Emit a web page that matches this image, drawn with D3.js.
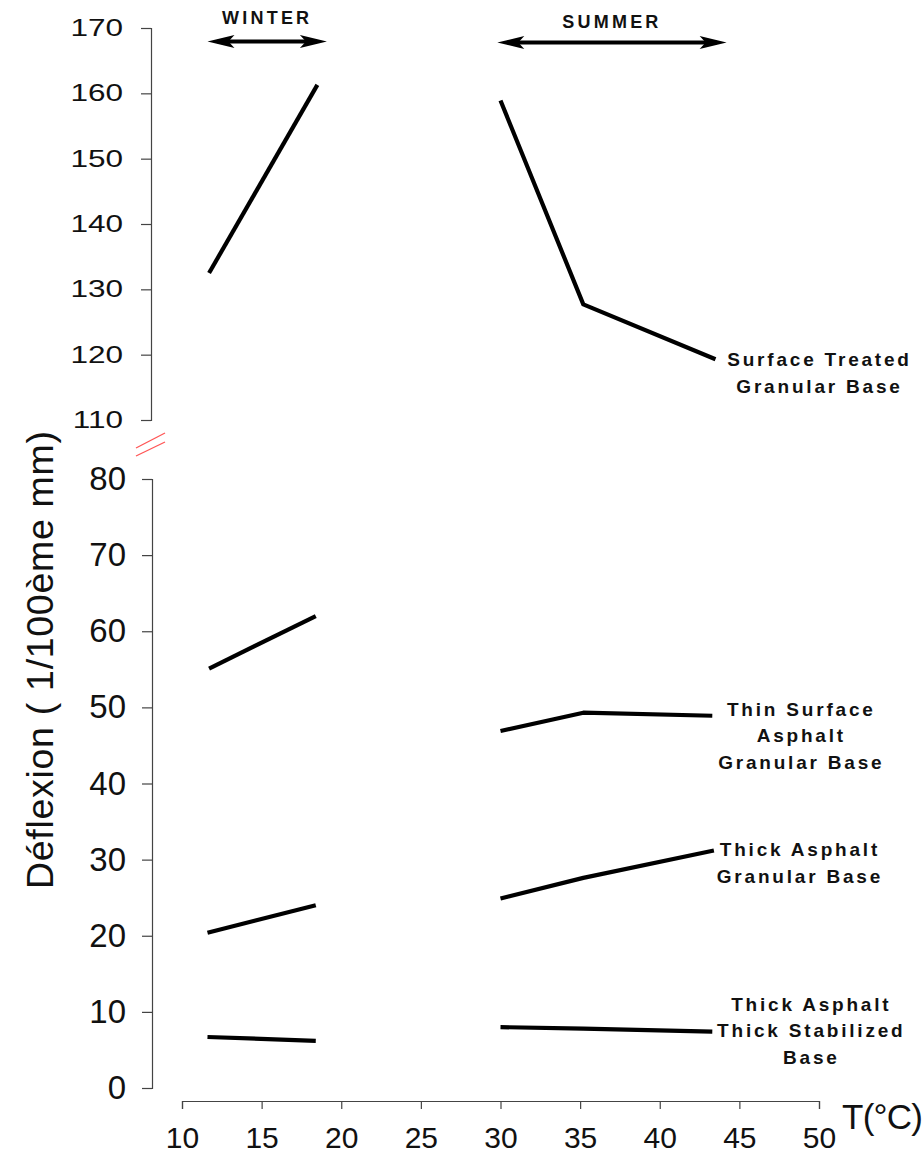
<!DOCTYPE html>
<html>
<head>
<meta charset="utf-8">
<script src="https://cdn.jsdelivr.net/npm/d3@7"></script>
<style>
  body { margin: 0; background: #fff; }
  svg { display: block; }
  .lbl { font-family: "Liberation Sans", Arial, sans-serif; font-weight: bold; fill: #111; }
</style>
</head>
<body>
<svg class="svg"></svg>
<script>
// data
const upperTicks = [110, 120, 130, 140, 150, 160, 170]
const lowerTicks = [0, 10, 20, 30, 40, 50, 60, 70, 80]
const xTicks = [10, 15, 20, 25, 30, 35, 40, 45, 50]

const surfaceTreatedWinter = [[11.7, 132.5], [18.5, 161.3]]
const surfaceTreatedSummer = [[30.0, 158.9], [35.2, 127.7], [43.5, 119.3]]
const thinSurfaceWinter = [[11.7, 55.1], [18.4, 62.0]]
const thinSurfaceSummer = [[30.0, 46.9], [35.2, 49.3], [43.3, 48.9]]
const thickGranularWinter = [[11.6, 20.4], [18.4, 24.0]]
const thickGranularSummer = [[30.0, 24.9], [35.2, 27.6], [43.4, 31.2]]
const thickStabWinter = [[11.6, 6.7], [18.4, 6.2]]
const thickStabSummer = [[30.0, 8.0], [35.2, 7.8], [43.3, 7.4]]

const seasons = [
  { name: "WINTER", from: 11.6, to: 19.1 },
  { name: "SUMMER", from: 29.8, to: 44.2 }
]

const labels = [
  { panel: "upper", at: surfaceTreatedSummer[2], lines: ["Surface Treated", "Granular Base"] },
  { panel: "lower", at: thinSurfaceSummer[2], lines: ["Thin Surface", "Asphalt", "Granular Base"] },
  { panel: "lower", at: thickGranularSummer[2], lines: ["Thick Asphalt", "Granular Base"] },
  { panel: "lower", at: thickStabSummer[2], lines: ["Thick Asphalt", "Thick Stabilized", "Base"] }
]

// label offsets from the line end (px)
const labelShift = [[104, 7], [89, 0], [86, 6], [99, -21]]

const svg = d3.select(".svg").attr("width", 924).attr("height", 1156)

const x = d3.scaleLinear().domain([10, 50]).range([182, 819])
const yUp = d3.scaleLinear().domain([110, 170]).range([420, 28])
const yLow = d3.scaleLinear().domain([0, 80]).range([1088, 479])

// y axes
const upAxis = svg.append("g")
  .attr("transform", "translate(151,0)")
  .call(d3.axisLeft(yUp).tickValues(upperTicks).tickSize(10))
upAxis.selectAll("text")
  .attr("x", 0)
  .attr("transform", "translate(-28,0) scale(1.37,1)")
  .attr("font-family", "Liberation Sans, Arial, sans-serif")
  .attr("font-size", 23).attr("fill", "#111")

const lowAxis = svg.append("g")
  .attr("transform", "translate(152,0)")
  .call(d3.axisLeft(yLow).tickValues(lowerTicks).tickSize(10).tickPadding(16))
lowAxis.selectAll("text")
  .attr("font-family", "Liberation Sans, Arial, sans-serif")
  .attr("font-size", 33).attr("fill", "#111")

// x axis
const xAxis = svg.append("g")
  .attr("transform", "translate(0,1101)")
  .call(d3.axisBottom(x).tickValues(xTicks).tickSize(8).tickPadding(18))
xAxis.selectAll("text")
  .attr("font-family", "Liberation Sans, Arial, sans-serif")
  .attr("font-size", 30).attr("fill", "#111")

svg.selectAll(".domain, .tick line").attr("stroke", "#444").attr("stroke-width", 1.2)

svg.append("text")
  .attr("x", 842).attr("y", 1129)
  .attr("font-family", "Liberation Sans, Arial, sans-serif")
  .attr("font-size", 35)
  .attr("textLength", 81)
  .attr("fill", "#111")
  .text("T(°C)")

svg.append("text")
  .attr("transform", "translate(53,660) rotate(-90)")
  .attr("text-anchor", "middle")
  .attr("font-family", "Liberation Sans, Arial, sans-serif")
  .attr("font-size", 37.5)
  .attr("textLength", 458)
  .attr("fill", "#111")
  .text("Déflexion ( 1/100ème mm)")

// break marks
const brk = svg.append("g").attr("stroke", "#f55").attr("stroke-width", 1.3)
brk.append("line").attr("x1", 136).attr("y1", 448).attr("x2", 165).attr("y2", 433)
brk.append("line").attr("x1", 136).attr("y1", 456).attr("x2", 165).attr("y2", 442)

// series lines
const lineUp = d3.line().x(d => x(d[0])).y(d => yUp(d[1]))
const lineLow = d3.line().x(d => x(d[0])).y(d => yLow(d[1]))

const upperSeries = [surfaceTreatedWinter, surfaceTreatedSummer]
const lowerSeries = [thinSurfaceWinter, thinSurfaceSummer, thickGranularWinter,
  thickGranularSummer, thickStabWinter, thickStabSummer]

svg.append("g").selectAll("path")
  .data(upperSeries)
  .join("path")
  .attr("d", lineUp)
  .attr("fill", "none").attr("stroke", "#000").attr("stroke-width", 4.2)
  .attr("stroke-linejoin", "round")

svg.append("g").selectAll("path")
  .data(lowerSeries)
  .join("path")
  .attr("d", lineLow)
  .attr("fill", "none").attr("stroke", "#000").attr("stroke-width", 4.2)
  .attr("stroke-linejoin", "round")

// season arrows
const season = svg.append("g").selectAll("g")
  .data(seasons)
  .join("g")
  .attr("transform", (d, i) => `translate(0,${i ? 42.5 : 41.5})`)

season.append("line")
  .attr("x1", d => x(d.from) + 10).attr("x2", d => x(d.to) - 10)
  .attr("stroke", "#000").attr("stroke-width", 4)

season.append("path")
  .attr("d", d => {
    const a = x(d.from), b = x(d.to)
    return `M${a},0 L${a + 27},-6.5 L${a + 21},0 L${a + 27},6.5 Z M${b},0 L${b - 27},-6.5 L${b - 21},0 L${b - 27},6.5 Z`
  })
  .attr("fill", "#000")

season.append("text")
  .attr("class", "lbl")
  .attr("x", d => (x(d.from) + x(d.to)) / 2)
  .attr("y", (d, i) => i ? -14.5 : -17.5)
  .attr("text-anchor", "middle")
  .attr("font-size", 18)
  .attr("letter-spacing", 3.2)
  .text(d => d.name)

// series labels
const lab = svg.append("g").selectAll("text")
  .data(labels)
  .join("text")
  .attr("class", "lbl")
  .attr("text-anchor", "middle")
  .attr("font-size", 19)
  .attr("letter-spacing", 2.8)
  .attr("transform", (d, i) => {
    const px = x(d.at[0]) + labelShift[i][0]
    const py = (d.panel === "upper" ? yUp(d.at[1]) : yLow(d.at[1])) + labelShift[i][1]
    return `translate(${px},${py})`
  })

lab.selectAll("tspan")
  .data(d => d.lines.map((t, i) => ({ t, i })))
  .join("tspan")
  .attr("x", 0)
  .attr("y", d => d.i * 26.5)
  .text(d => d.t)
</script>
</body>
</html>
